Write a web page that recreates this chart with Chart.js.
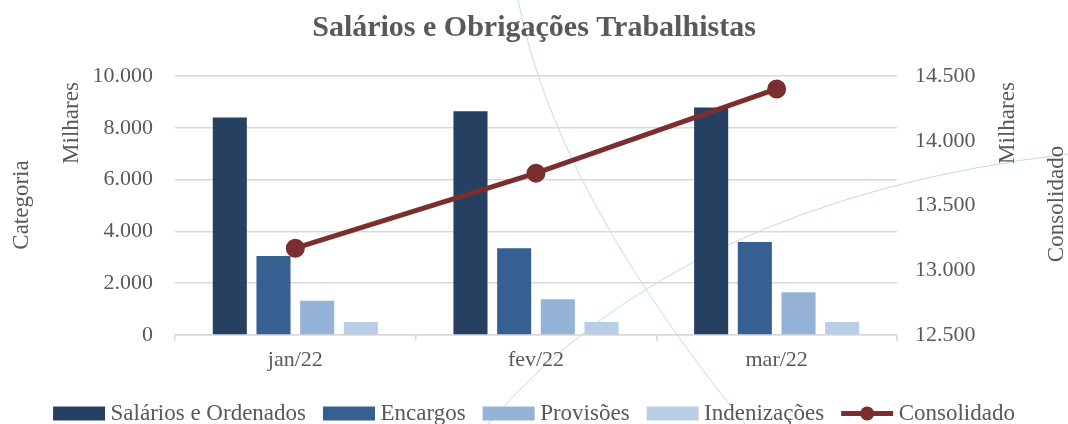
<!DOCTYPE html>
<html>
<head>
<meta charset="utf-8">
<script src="https://cdn.jsdelivr.net/npm/chart.js@4.4.1/dist/chart.umd.min.js"></script>
<style>
    html, body { margin:0; padding:0; background:#fff; }
    #wrap { width:1068px; height:424px; position:relative; }
</style>
</head>
<body>
<div id="wrap"><canvas id="chart"></canvas></div>
<script>
// dados (valores em milhares)
const categorias   = ['jan/22', 'fev/22', 'mar/22'];
const salarios     = [8400, 8640, 8780];
const encargos     = [3050, 3350, 3590];
const provisoes    = [1320, 1380, 1650];
const indenizacoes = [500, 500, 500];
const consolidado  = [13170, 13750, 14400];

const serif = "'Liberation Serif', 'DejaVu Serif', serif";
const cinza = '#595959';
const vinho = '#7a2e2e';
const cores = ['#264061', '#376092', '#95b3d7', '#b9cde5'];

const fmt = v => String(v).replace(/\B(?=(\d{3})+(?!\d))/g, '.');

// textos dos eixos, marcadores da legenda e arcos claros do fundo
const extras = {
    id: 'extras',
    beforeDraw(chart) {
        const ctx = chart.ctx;
        ctx.save();
        ctx.strokeStyle = '#bcdce6';
        ctx.lineWidth = 1;
        ctx.beginPath();
        ctx.moveTo(518, 0);
        ctx.quadraticCurveTo(555, 190, 745, 424);
        ctx.stroke();
        ctx.beginPath();
        ctx.moveTo(488, 424);
        ctx.quadraticCurveTo(680, 200, 1068, 154);
        ctx.stroke();
        ctx.restore();
    },
    afterDraw(chart) {
        const ctx = chart.ctx;
        ctx.save();
        ctx.fillStyle = cinza;
        ctx.font = '23px ' + serif;
        ctx.textAlign = 'center';
        ctx.textBaseline = 'middle';
        const vert = (txt, x, y) => {
            ctx.save();
            ctx.translate(x, y);
            ctx.rotate(-Math.PI / 2);
            ctx.fillText(txt, 0, 0);
            ctx.restore();
        };
        vert('Milhares', 72, 123);
        vert('Categoria', 22, 205);
        vert('Milhares', 1008, 123);
        vert('Consolidado', 1057, 204);

        // marcadores da legenda
        const lg = chart.legend;
        const w = 52;
        lg.legendHitBoxes.forEach((hb, i) => {
            const y = hb.top + hb.height / 2;
            if (i < 4) {
                ctx.fillStyle = cores[i];
                ctx.fillRect(hb.left, y - 7, w, 14);
            } else {
                ctx.strokeStyle = vinho;
                ctx.lineWidth = 5;
                ctx.beginPath();
                ctx.moveTo(hb.left, y);
                ctx.lineTo(hb.left + w, y);
                ctx.stroke();
                ctx.fillStyle = vinho;
                ctx.beginPath();
                ctx.arc(hb.left + w / 2, y, 7, 0, Math.PI * 2);
                ctx.fill();
            }
        });
        ctx.restore();
    }
};

new Chart(document.getElementById('chart'), {
    type: 'bar',
    data: {
        labels: categorias,
        datasets: [
            { label: 'Salários e Ordenados', data: salarios, backgroundColor: cores[0], order: 1 },
            { label: 'Encargos', data: encargos, backgroundColor: cores[1], order: 1 },
            { label: 'Provisões', data: provisoes, backgroundColor: cores[2], order: 1 },
            { label: 'Indenizações', data: indenizacoes, backgroundColor: cores[3], order: 1 },
            { label: 'Consolidado', type: 'line', data: consolidado, yAxisID: 'y1',
              borderColor: vinho, backgroundColor: vinho, borderWidth: 5,
              pointRadius: 7, pointBackgroundColor: vinho, pointBorderColor: vinho, order: 0 }
        ]
    },
    options: {
        responsive: true,
        maintainAspectRatio: false,
        animation: false,
        categoryPercentage: 0.726,
        barPercentage: 0.78,
        layout: { padding: { left: 0, right: 0, top: 0, bottom: -11 } },
        plugins: {
            tooltip: { enabled: false },
            title: {
                display: true,
                text: 'Salários e Obrigações Trabalhistas',
                color: cinza,
                font: { family: serif, size: 30, weight: 'bold' },
                padding: { top: 10, bottom: 30 }
            },
            legend: {
                position: 'bottom',
                labels: {
                    color: cinza,
                    font: { family: serif, size: 23 },
                    boxWidth: 46,
                    boxHeight: 14,
                    padding: 17,
                    sort: (a, b) => a.datasetIndex - b.datasetIndex,
                    generateLabels(chart) {
                        const items = Chart.defaults.plugins.legend.labels.generateLabels(chart);
                        items.forEach(it => {
                            it.lineWidth = 0;
                            it.fillStyle = 'rgba(0,0,0,0)';
                            it.strokeStyle = 'rgba(0,0,0,0)';
                        });
                        return items;
                    }
                }
            }
        },
        scales: {
            x: {
                afterFit(s) { s.height = 50; },
                grid: { display: true, offset: true, drawOnChartArea: false, drawTicks: true, tickLength: 6, color: '#d9d9d9', lineWidth: 1.5 },
                border: { display: true, color: '#d9d9d9', width: 1.5 },
                ticks: { color: cinza, font: { family: serif, size: 22 }, padding: 6 }
            },
            y: {
                position: 'left',
                min: 0, max: 10000,
                afterFit(s) { s.width = 175; },
                grid: { color: '#d9d9d9', lineWidth: 1.5, drawTicks: false },
                border: { display: false },
                ticks: { stepSize: 2000, color: cinza, font: { family: serif, size: 22 }, padding: 22, callback: v => fmt(v) }
            },
            y1: {
                position: 'right',
                min: 12500, max: 14500,
                afterFit(s) { s.width = 171; },
                grid: { display: false, drawOnChartArea: false, drawTicks: false },
                border: { display: false },
                ticks: { stepSize: 500, color: cinza, font: { family: serif, size: 22 }, padding: 18, callback: v => fmt(v) }
            }
        }
    },
    plugins: [extras]
});
</script>
</body>
</html>
